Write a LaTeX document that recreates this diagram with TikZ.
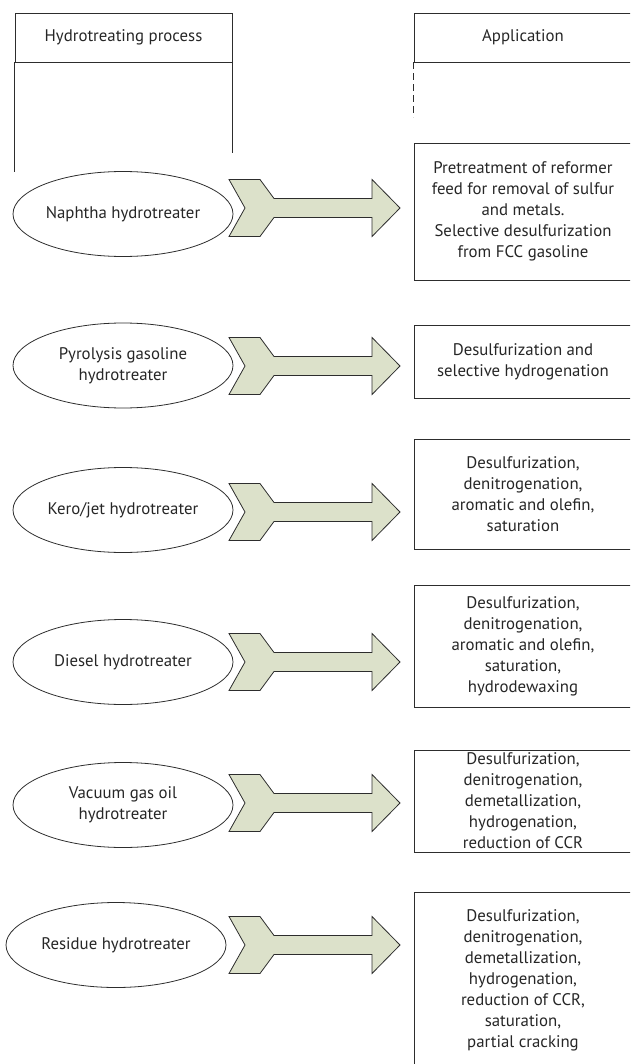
\documentclass[tikz,border=0pt]{standalone}
\usepackage{fontspec}
\setmainfont{PT Sans}
\usetikzlibrary{shapes.geometric,calc}
\definecolor{arrowfill}{RGB}{220,225,202}
\definecolor{linegray}{RGB}{45,45,45}
\tikzset{
  txt/.style={font=\fontsize{16.8}{21}\selectfont, text=black!85},
  procell/.style={txt, draw=linegray, line width=0.8pt, ellipse, minimum width=220pt, minimum height=85pt, inner sep=0pt, align=center},
  appbox/.style={txt, draw=linegray, line width=0.9pt, rectangle, minimum width=218pt, inner sep=0pt, align=center},
  hdrbox/.style={txt, draw=linegray, line width=0.9pt, rectangle, inner sep=0pt},
  rule/.style={draw=linegray, line width=0.9pt},
  arrowstyle/.style={draw=linegray, line width=0.8pt, fill=arrowfill, line join=miter},
  pics/blockarrow/.style={code={
    \draw[arrowstyle] (0,-28.5) -- (31,-28.5) -- (45,-9.5) -- (143,-9.5) -- (143,-28.5) -- (171,0)
      -- (143,28.5) -- (143,9.5) -- (45,9.5) -- (31,28.5) -- (0,28.5) -- (16,0) -- cycle;}}
}
\begin{document}
\begin{tikzpicture}[x=1pt,y=-1pt]
\useasboundingbox (0,0) rectangle (630,1064);
\clip (0,0) rectangle (630,1064);
% headers
\node[hdrbox, minimum width=217pt, minimum height=49pt] (h1) at (123.5,37.5) {Hydrotreating process};
\draw[rule] (h1.south west) -- ++(0,110) coordinate (h1l);
\draw[rule] (h1.south east) -- ++(0,91) coordinate (h1r);
\node[hdrbox, minimum width=218pt, minimum height=49pt] (h2) at (523,37.5) {Application};
\draw[rule, dash pattern=on 7pt off 4pt] (h2.south west) -- ++(0,55) coordinate (h2l);
% row 1
\node[procell] (e1) at (123,214) {Naphtha hydrotreater};
\node[appbox, minimum height=137pt] (b1) at (523,211.5) {Pretreatment of reformer\\feed for removal of sulfur\\and metals.\\Selective desulfurization\\from FCC gasoline};
\coordinate (a1) at (229,208);
\pic at (a1) {blockarrow};
% row 2
\node[procell] (e2) at (123,365.5) {Pyrolysis gasoline\\hydrotreater};
\node[appbox, minimum height=73pt] (b2) at (523,361.5) {Desulfurization and\\selective hydrogenation};
\coordinate (a2) at (229,366);
\pic at (a2) {blockarrow};
% row 3
\node[procell] (e3) at (123,510) {Kero/jet hydrotreater};
\node[appbox, minimum height=110pt] (b3) at (523,494) {Desulfurization,\\denitrogenation,\\aromatic and olefin,\\saturation};
\coordinate (a3) at (229,512);
\pic at (a3) {blockarrow};
% row 4
\node[procell] (e4) at (123,662) {Diesel hydrotreater};
\node[appbox, minimum height=122pt] (b4) at (523,646) {Desulfurization,\\denitrogenation,\\aromatic and olefin,\\saturation,\\hydrodewaxing};
\coordinate (a4) at (229,662);
\pic at (a4) {blockarrow};
% row 5
\node[procell] (e5) at (123,805) {Vacuum gas oil\\hydrotreater};
\node[appbox, minimum height=102pt] (b5) at (523,801) {Desulfurization,\\denitrogenation,\\demetallization,\\hydrogenation,\\reduction of CCR};
\coordinate (a5) at (229,803);
\pic at (a5) {blockarrow};
% row 6
\node[procell] (e6) at (116,945) {Residue hydrotreater};
\node[appbox, minimum height=176pt] (b6) at (523,980) {Desulfurization,\\denitrogenation,\\demetallization,\\hydrogenation,\\reduction of CCR,\\saturation,\\partial cracking};
\coordinate (a6) at (229,945);
\pic at (a6) {blockarrow};
\end{tikzpicture}
\end{document}
